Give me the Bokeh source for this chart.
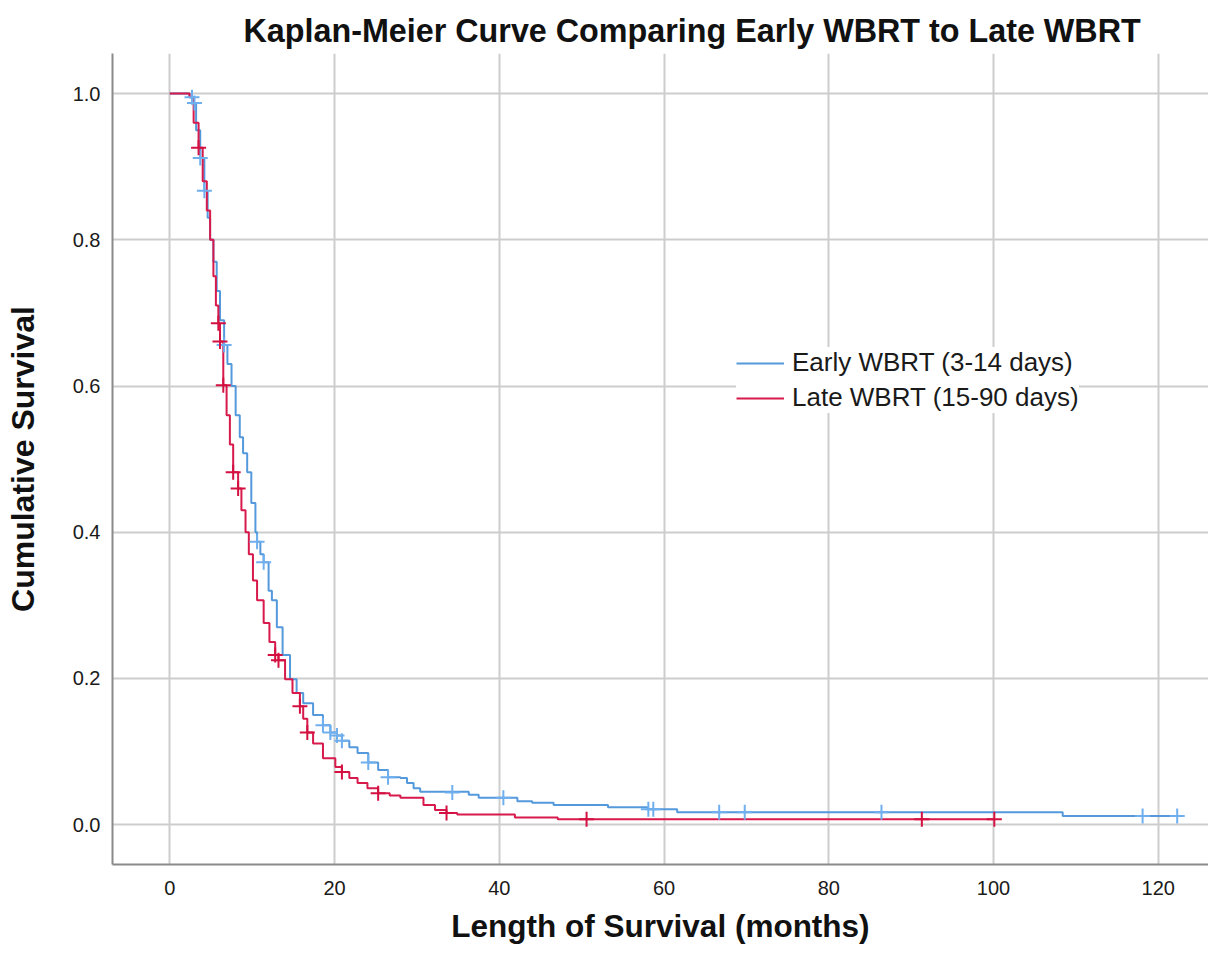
from bokeh.plotting import figure
from bokeh.models import Range1d, Legend, LegendItem, FixedTicker, PrintfTickFormatter
from bokeh.embed import file_html
from bokeh.resources import INLINE

# ---------------- data ----------------
title_text = "Kaplan-Meier Curve Comparing Early WBRT to Late WBRT"
x_label = "Length of Survival (months)"
y_label = "Cumulative Survival"
x_ticks = [0, 20, 40, 60, 80, 100, 120]
y_ticks = [0.0, 0.2, 0.4, 0.6, 0.8, 1.0]

early_name = "Early WBRT (3-14 days)"
late_name = "Late WBRT (15-90 days)"

# Early WBRT: step times (months) and survival after each step
early_t = [0, 2.4, 2.8, 3.2, 3.7, 4.2, 4.6, 4.9, 5.3, 5.7, 6.1, 6.6, 7.0, 7.5, 8.0, 8.5,
           8.9, 9.4, 9.9, 10.4, 10.6, 11.0, 11.4, 12.0, 12.4, 13.0, 13.7, 14.6, 15.4,
           16.2, 17.4, 18.6, 19.5, 20.3, 20.9, 21.8, 22.8, 24.1, 25.3, 26.5, 28.0, 28.8,
           29.6, 30.4, 36.3, 37.5, 42.2, 44.0, 46.6, 53.2, 58.0, 61.6, 108.4, 122.7]
early_s = [1.0, 0.995, 0.987, 0.95, 0.912, 0.867, 0.83, 0.80, 0.77, 0.73, 0.69, 0.656, 0.63,
           0.60, 0.56, 0.53, 0.508, 0.482, 0.44, 0.40, 0.387, 0.37, 0.359, 0.32, 0.307, 0.27,
           0.232, 0.199, 0.18, 0.166, 0.15, 0.136, 0.126, 0.122, 0.115, 0.106, 0.098, 0.085,
           0.075, 0.065, 0.064, 0.057, 0.050, 0.045, 0.041, 0.037, 0.032, 0.030, 0.027,
           0.024, 0.021, 0.017, 0.012, 0.012]
# Early WBRT censored observations
early_cens_t = [2.7, 3.0, 3.7, 4.2, 6.6, 10.6, 11.4, 18.6, 19.5, 20.3, 20.9, 24.1, 26.5,
                34.3, 40.5, 58.1, 58.7, 66.7, 69.8, 86.4, 118.1, 122.3]
early_cens_s = [0.995, 0.987, 0.912, 0.867, 0.656, 0.387, 0.359, 0.136, 0.126, 0.122, 0.115,
                0.085, 0.065, 0.044, 0.037, 0.021, 0.021, 0.017, 0.017, 0.017, 0.012, 0.012]

# Late WBRT: step times (months) and survival after each step
late_t = [0, 2.4, 2.9, 3.5, 4.0, 4.5, 4.9, 5.3, 5.6, 5.9, 6.1, 6.5, 6.9, 7.3, 7.7, 8.3, 8.7,
          9.2, 9.6, 10.1, 10.6, 11.4, 12.1, 12.8, 13.2, 14.0, 14.9, 15.8, 16.2, 16.7, 17.4,
          18.6, 20.1, 20.9, 21.8, 22.8, 24.0, 25.3, 26.7, 28.0, 30.8, 32.2, 33.6, 34.9,
          41.9, 47.1, 100.1]
late_s = [1.0, 0.995, 0.96, 0.926, 0.88, 0.84, 0.80, 0.75, 0.71, 0.686, 0.661, 0.601, 0.56,
          0.52, 0.482, 0.460, 0.43, 0.40, 0.37, 0.334, 0.307, 0.276, 0.25, 0.232, 0.225,
          0.199, 0.18, 0.162, 0.145, 0.126, 0.111, 0.091, 0.079, 0.072, 0.064, 0.057, 0.05,
          0.043, 0.040, 0.037, 0.027, 0.020, 0.016, 0.014, 0.010, 0.0075, 0.0075]
# Late WBRT censored observations
late_cens_t = [3.5, 5.9, 6.1, 6.5, 7.7, 8.3, 12.8, 13.2, 15.8, 16.7, 20.9, 25.3, 33.6,
               50.6, 91.3, 100.1]
late_cens_s = [0.926, 0.686, 0.661, 0.601, 0.482, 0.460, 0.232, 0.225, 0.162, 0.126, 0.072,
               0.043, 0.016, 0.0075, 0.0075, 0.0075]

# ---------------- styles ----------------
FONT = "Liberation Sans"
BLUE = "#5499dc"
BLUE_CENS = "#6fafee"
RED = "#d7194b"
RED_CENS = "#d41040"
GRID = "#cdcdcd"
AXIS = "#8a8a8a"

p = figure(width=1208, height=947, output_backend="svg", toolbar_location=None,
           x_range=Range1d(-6.95, 126.1), y_range=Range1d(-0.0544, 1.0548),
           min_border_left=112, min_border_right=0, min_border_top=53, min_border_bottom=83)

p.outline_line_color = None
p.background_fill_color = "white"
p.border_fill_color = "white"

p.title.text = title_text
p.title.text_font = FONT
p.title.text_font_size = "32.3px"
p.title.text_font_style = "bold"
p.title.text_color = "#111111"
p.title.align = "left"
p.title.offset = 131
p.title.standoff = 9

for ax in (p.xaxis[0], p.yaxis[0]):
    ax.axis_line_color = AXIS
    ax.axis_line_width = 2
    ax.major_tick_line_color = None
    ax.minor_tick_line_color = None
    ax.major_tick_out = 0
    ax.major_tick_in = 0
    ax.minor_tick_out = 0
    ax.major_label_text_font = FONT
    ax.major_label_text_font_size = "20px"
    ax.major_label_text_color = "#1a1a1a"
    ax.axis_label_text_font = FONT
    ax.axis_label_text_font_style = "bold"
    ax.axis_label_text_color = "#111111"

p.xaxis.ticker = FixedTicker(ticks=x_ticks)
p.yaxis.ticker = FixedTicker(ticks=y_ticks)
p.yaxis.formatter = PrintfTickFormatter(format="%.1f")
p.xaxis.axis_label = x_label
p.yaxis.axis_label = y_label
p.xaxis.axis_label_text_font_size = "31.5px"
p.yaxis.axis_label_text_font_size = "32px"
p.xaxis.major_label_standoff = 16
p.yaxis.major_label_standoff = 12
p.xaxis.axis_label_standoff = 10
p.yaxis.axis_label_standoff = 29

p.xgrid.ticker = FixedTicker(ticks=x_ticks)
p.ygrid.ticker = FixedTicker(ticks=y_ticks)
p.grid.grid_line_color = GRID
p.grid.grid_line_width = 2

r_early = p.step(early_t, early_s, mode="after", line_color=BLUE, line_width=2)
r_late = p.step(late_t, late_s, mode="after", line_color=RED, line_width=2)

p.scatter(early_cens_t, early_cens_s, marker="cross", size=15, line_width=2,
          line_color=BLUE_CENS)
p.scatter(late_cens_t, late_cens_s, marker="cross", size=15, line_width=2,
          line_color=RED_CENS)

legend = Legend(items=[LegendItem(label=early_name, renderers=[r_early]),
                       LegendItem(label=late_name, renderers=[r_late])],
                location=(624, 451), orientation="vertical")
legend.glyph_width = 48
legend.glyph_height = 30
legend.label_height = 30
legend.label_standoff = 8
legend.spacing = 4
legend.padding = 6
legend.margin = 0
legend.border_line_color = None
legend.background_fill_color = "white"
legend.background_fill_alpha = 1.0
legend.label_text_font = FONT
legend.label_text_font_size = "26px"
legend.label_text_color = "#1a1a1a"
p.add_layout(legend, "center")

open("out.html", "w").write(file_html(p, INLINE))
